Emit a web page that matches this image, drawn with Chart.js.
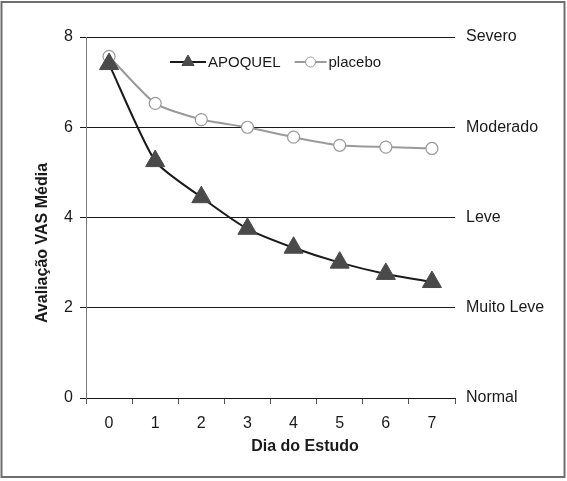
<!DOCTYPE html>
<html>
<head>
<meta charset="utf-8">
<script src="https://cdn.jsdelivr.net/npm/chart.js@4.4.0/dist/chart.umd.min.js"></script>
<style>
  html, body { margin: 0; padding: 0; background: #fff; }
  #wrap { width: 567px; height: 481px; position: relative; }
</style>
</head>
<body>
<div id="wrap"><canvas id="vasChart" width="567" height="481"></canvas></div>
<script>
// Chart data
const days = ['0', '1', '2', '3', '4', '5', '6', '7'];
const apoquelValues = [7.4, 5.25, 4.45, 3.75, 3.33, 3.0, 2.75, 2.57];
const placeboValues = [7.57, 6.53, 6.17, 6.0, 5.78, 5.6, 5.56, 5.53];
const yTicks = [0, 2, 4, 6, 8];
const severityLabels = { 0: 'Normal', 2: 'Muito Leve', 4: 'Leve', 6: 'Moderado', 8: 'Severo' };
const xTitle = 'Dia do Estudo';
const yTitle = 'Avaliação VAS Média';

const fontFamily = '"Liberation Sans", Arial, sans-serif';

// outer frame and the two axis titles (placed off-centre like the original)
const framePlugin = {
    id: 'frame',
    afterDraw(chart) {
        const ctx = chart.ctx;
        ctx.save();
        ctx.strokeStyle = '#6e6e6e';
        ctx.lineWidth = 2;
        ctx.strokeRect(1.5, 2, 563, 475);

        ctx.fillStyle = '#1a1a1a';
        ctx.font = 'bold 16px ' + fontFamily;
        ctx.textAlign = 'center';
        ctx.textBaseline = 'middle';
        ctx.fillText(xTitle, 305, 447);

        ctx.translate(43, 243);
        ctx.rotate(-Math.PI / 2);
        ctx.fillText(yTitle, 0, 0);
        ctx.restore();
    }
};

// legend drawn inside the plot, built from the datasets
const inlineLegend = {
    id: 'inlineLegend',
    afterDatasetsDraw(chart) {
        const ctx = chart.ctx;
        const y = 62;
        let x = 170;
        ctx.save();
        ctx.font = '15px ' + fontFamily;
        ctx.textBaseline = 'middle';
        chart.data.datasets.forEach((ds, i) => {
            const segLen = i === 0 ? 36 : 32;
            ctx.strokeStyle = ds.borderColor;
            ctx.lineWidth = ds.borderWidth;
            ctx.beginPath();
            ctx.moveTo(x, y);
            ctx.lineTo(x + segLen, y);
            ctx.stroke();
            ctx.fillStyle = ds.pointBackgroundColor;
            ctx.strokeStyle = ds.pointBorderColor;
            ctx.lineWidth = 1;
            Chart.helpers.drawPoint(ctx, {
                pointStyle: ds.pointStyle,
                radius: i === 0 ? 7 : 5,
                borderWidth: 1
            }, x + segLen / 2, y);
            ctx.fillStyle = '#1a1a1a';
            ctx.fillText(ds.label, x + segLen + 2, y + 1);
            x += segLen + 2 + ctx.measureText(ds.label).width + 14;
        });
        ctx.restore();
    }
};

const ctx = document.getElementById('vasChart').getContext('2d');
new Chart(ctx, {
    type: 'line',
    data: {
        labels: days,
        datasets: [
            {
                label: 'APOQUEL',
                data: apoquelValues,
                borderColor: '#1a1a1a',
                borderWidth: 2,
                pointStyle: 'triangle',
                pointRadius: 11,
                pointBackgroundColor: '#4a4a4a',
                pointBorderColor: '#4a4a4a',
                pointBorderWidth: 1,
                tension: 0.2,
                fill: false
            },
            {
                label: 'placebo',
                data: placeboValues,
                borderColor: '#9a9a9a',
                borderWidth: 2,
                pointStyle: 'circle',
                pointRadius: 6,
                pointBackgroundColor: '#ffffff',
                pointBorderColor: '#9a9a9a',
                pointBorderWidth: 1.2,
                tension: 0.2,
                fill: false
            }
        ]
    },
    options: {
        responsive: false,
        animation: false,
        layout: { padding: { top: 37, bottom: 0, left: 0, right: 0 } },
        plugins: {
            legend: { display: false },
            tooltip: { enabled: false }
        },
        scales: {
            x: {
                type: 'category',
                offset: true,
                border: { color: '#1a1a1a', width: 1 },
                grid: {
                    offset: true,
                    drawOnChartArea: false,
                    drawTicks: true,
                    tickLength: 6,
                    color: '#555'
                },
                ticks: {
                    color: '#1a1a1a',
                    font: { family: fontFamily, size: 16 },
                    padding: 10
                },
                afterFit(scale) { scale.height = 83; }
            },
            y: {
                position: 'left',
                min: 0,
                max: 8,
                afterBuildTicks(scale) { scale.ticks = yTicks.map(v => ({ value: v })); },
                border: { color: '#7a7a7a', width: 1 },
                grid: {
                    color: '#1a1a1a',
                    lineWidth: 1,
                    tickLength: 6
                },
                ticks: {
                    color: '#1a1a1a',
                    font: { family: fontFamily, size: 16 },
                    padding: 7
                },
                afterFit(scale) { scale.width = 86; }
            },
            y2: {
                position: 'right',
                min: 0,
                max: 8,
                afterBuildTicks(scale) { scale.ticks = yTicks.map(v => ({ value: v })); },
                border: { display: false },
                grid: { display: false, drawTicks: false },
                ticks: {
                    color: '#1a1a1a',
                    font: { family: fontFamily, size: 16 },
                    padding: 11,
                    callback: v => severityLabels[v]
                },
                afterFit(scale) { scale.width = 112; }
            }
        }
    },
    plugins: [framePlugin, inlineLegend]
});
</script>
</body>
</html>
